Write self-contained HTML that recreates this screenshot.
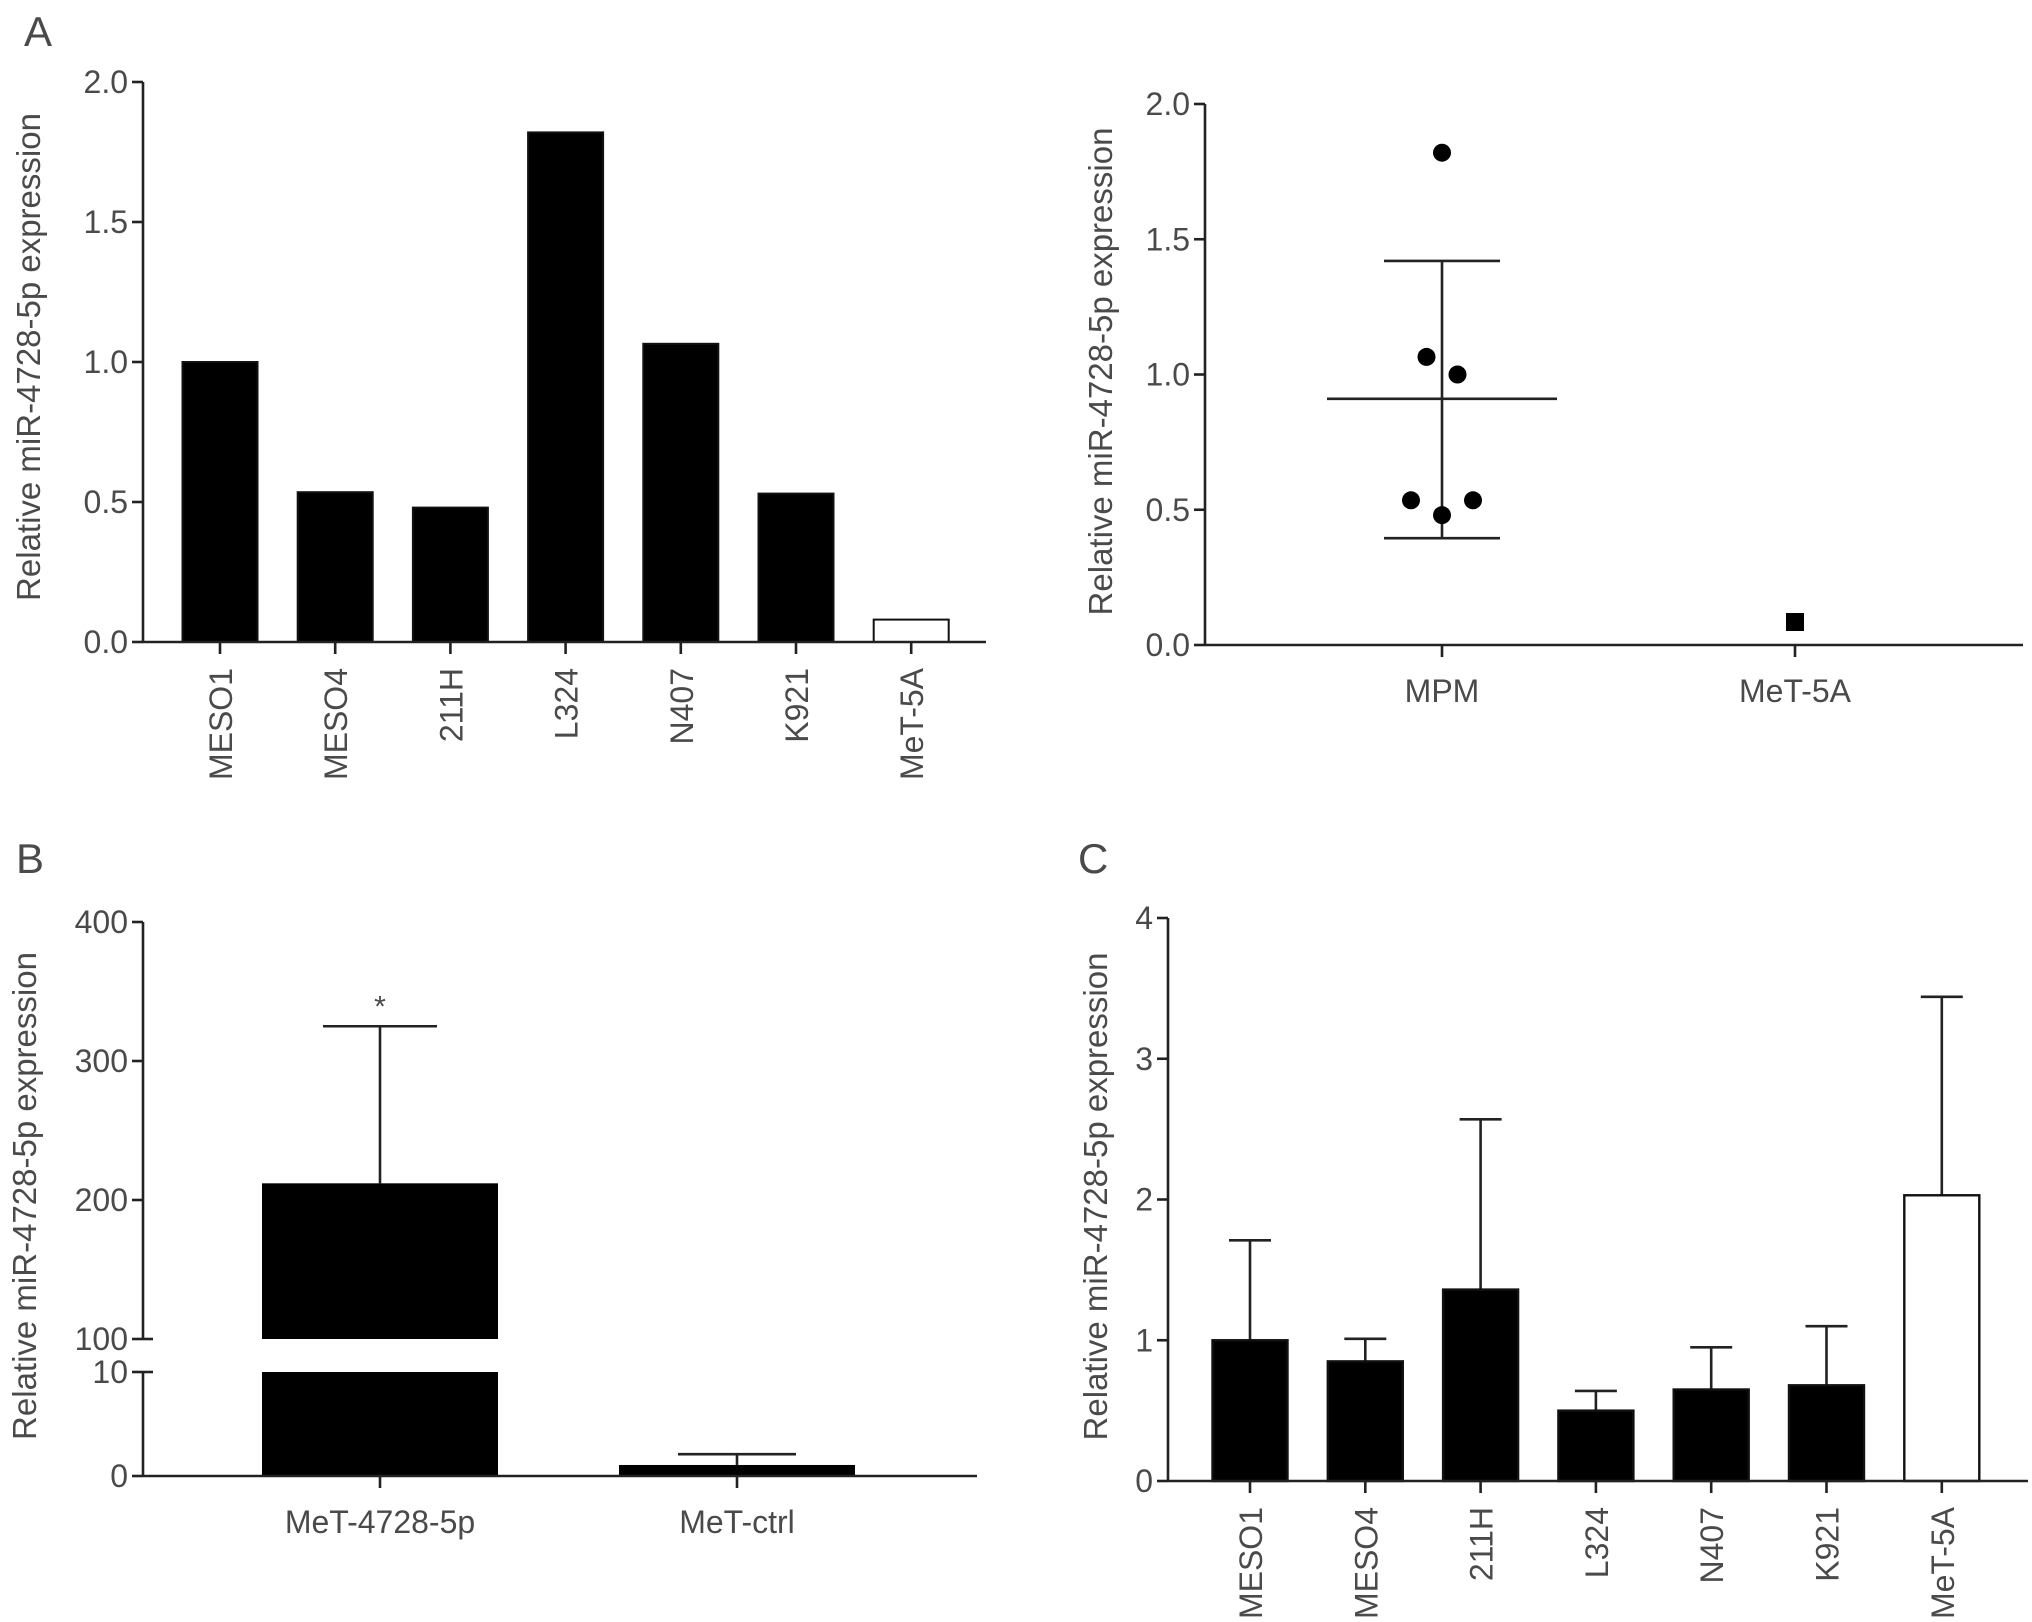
<!DOCTYPE html>
<html><head><meta charset="utf-8"><style>
html,body{margin:0;padding:0;background:#fff}
svg{display:block}
text{font-family:"Liberation Sans",sans-serif;fill:#4a4a4a}
</style></head><body>
<svg id="fig" width="2032" height="1622" viewBox="0 0 2032 1622" xmlns="http://www.w3.org/2000/svg">
<text x="24" y="46" font-size="42">A</text>
<text x="16" y="873" font-size="42">B</text>
<text x="1078" y="873" font-size="42">C</text>
</svg>
<script>
// Panel A left
const aCats = ["MESO1","MESO4","211H","L324","N407","K921","MeT-5A"];
const aVals = [1.0,0.535,0.48,1.82,1.065,0.53,0.08];
const aTicks = [0,0.5,1.0,1.5,2.0];
// Panel A right
const sCats = ["MPM","MeT-5A"];
const sMpm = [1.82,1.065,1.0,0.535,0.48,0.535];
const sMpmJitter = [0,-1,1,-2,0,2];
const sMean = 0.91, sUpper = 1.42, sLower = 0.395;
const sMet = [0.085];
// Panel B
const bCats = ["MeT-4728-5p","MeT-ctrl"];
const bVals = [212,1.06];
const bErr = [325,2.1];
const bTicksLow = [0,10];
const bTicksHigh = [100,200,300,400];
// Panel C
const cCats = ["MESO1","MESO4","211H","L324","N407","K921","MeT-5A"];
const cVals = [1.0,0.85,1.36,0.5,0.65,0.68,2.03];
const cErr = [1.71,1.01,2.57,0.64,0.95,1.1,3.44];
const cTicks = [0,1,2,3,4];

const svg=document.getElementById('fig');
const NS='http://www.w3.org/2000/svg';
function el(tag,attrs,parent){const e=document.createElementNS(NS,tag);for(const k in attrs)e.setAttribute(k,attrs[k]);(parent||svg).appendChild(e);return e;}
function line(x1,y1,x2,y2,p){return el('line',{x1,y1,x2,y2,stroke:'#222','stroke-width':2.6},p);}
function txt(s,x,y,size,anchor,p,rot){const t=el('text',{x,y,'font-size':size,'text-anchor':anchor},p);if(rot)t.setAttribute('transform',`rotate(-90 ${x} ${y})`);t.textContent=s;return t;}
function ytitle(p,x,cy){const t=txt('Relative miR-4728-5p expression',x,cy,33,'middle',p,true);}
function yticks(p,ticks,ys,x,fmt){ticks.forEach(v=>{const y=ys(v);line(x-11,y,x,y,p);const t=txt(fmt(v),x-15,y+11,32,'end',p);});}

// ---- Panel A left
(function(){
const g=el('g',{});
const x0=143,x1=986,y0=642,y1=82,max=2;
const ys=v=>y0-(v/max)*(y0-y1);
const step=115.2, first=220, bw=75;
aVals.forEach((v,i)=>{const cx=first+i*step;const r=el('rect',{x:cx-bw/2,y:ys(v),width:bw,height:y0-ys(v),fill:i===aVals.length-1?'#fff':'#000',stroke:'#111','stroke-width':2},g);

line(cx,y0,cx,y0+12,g);const t=txt(aCats[i],cx+12,y0+26,32,'end',g,true);});
line(x0,y0,x1,y0,g);line(x0,y1,x0,y0,g);
yticks(g,aTicks,ys,x0,v=>v.toFixed(1));
ytitle(g,40,(y0+y1)/2-5);
})();

// ---- Panel A right
(function(){
const g=el('g',{});
const x0=1205,x1=2023,y0=645,y1=104,max=2;
const ys=v=>y0-(v/max)*(y0-y1);
const cx=[1442,1795];
sCats.forEach((c,i)=>{line(cx[i],y0,cx[i],y0+12,g);const t=txt(c,cx[i],y0+57,32,'middle',g);});
line(x0,y0,x1,y0,g);line(x0,y1,x0,y0,g);
yticks(g,aTicks,ys,x0,v=>v.toFixed(1));
ytitle(g,1112,(y0+y1)/2-3);
line(cx[0],ys(sUpper),cx[0],ys(sLower),g);
const m=line(cx[0]-115,ys(sMean),cx[0]+115,ys(sMean),g);
line(cx[0]-58,ys(sUpper),cx[0]+58,ys(sUpper),g);line(cx[0]-58,ys(sLower),cx[0]+58,ys(sLower),g);
sMpm.forEach((v,i)=>{const c=el('circle',{cx:cx[0]+sMpmJitter[i]*15.5,cy:ys(v),r:9,fill:'#000'},g);});
sMet.forEach(v=>{const r=el('rect',{x:cx[1]-9,y:ys(v)-9,width:18,height:18,fill:'#000'},g);});
})();

// ---- Panel B
(function(){
const g=el('g',{});
const x0=143,x1=977,y0=1476,yl10=1372,yh100=1339,yh400=922;
const ysLow=v=>y0-(v/10)*(y0-yl10);
const ysHigh=v=>yh100-((v-100)/300)*(yh100-yh400);
const ys=v=>v<=10?ysLow(v):(v>=100?ysHigh(v):yl10);
const cx=[380,737],bw=236;
bVals.forEach((v,i)=>{
 const r1=el('rect',{x:cx[i]-bw/2,y:ysLow(Math.min(v,10)),width:bw,height:y0-ysLow(Math.min(v,10)),fill:'#000'},g);
 
 if(v>100){const r2=el('rect',{x:cx[i]-bw/2,y:ysHigh(v),width:bw,height:yh100-ysHigh(v),fill:'#000'},g);}
 const hw=i===0?57:59;
 line(cx[i],ys(v),cx[i],ys(bErr[i]),g);line(cx[i]-hw,ys(bErr[i]),cx[i]+hw,ys(bErr[i]),g);
 line(cx[i],y0,cx[i],y0+12,g);
 const t=txt(bCats[i],cx[i],y0+57,32,'middle',g);
});
const s=txt('*',cx[0],ys(bErr[0])-10,30,'middle',g);
line(x0,y0,x1,y0,g);line(x0,yh400,x0,yh100,g);line(x0,yl10,x0,y0,g);
line(x0+10,yh100,x0,yh100,g);line(x0+10,yl10,x0,yl10,g);
yticks(g,bTicksHigh,ysHigh,x0,v=>String(v));
yticks(g,bTicksLow,ysLow,x0,v=>String(v));
ytitle(g,36,(y0+yh400)/2-3);
})();

// ---- Panel C
(function(){
const g=el('g',{});
const x0=1168,x1=2028,y0=1481,y1=918,max=4;
const ys=v=>y0-(v/max)*(y0-y1);
const step=115.3, first=1250, bw=75;
cVals.forEach((v,i)=>{const cx=first+i*step;
 line(cx,ys(v),cx,ys(cErr[i]),g);line(cx-21,ys(cErr[i]),cx+21,ys(cErr[i]),g);
 const r=el('rect',{x:cx-bw/2,y:ys(v),width:bw,height:y0-ys(v),fill:i===cVals.length-1?'#fff':'#000',stroke:'#111','stroke-width':2.4},g);
 
 line(cx,y0,cx,y0+12,g);const t=txt(cCats[i],cx+12,y0+26,32,'end',g,true);});
line(x0,y0,x1,y0,g);line(x0,y1,x0,y0,g);
yticks(g,cTicks,ys,x0,v=>String(v));
ytitle(g,1107,(y0+y1)/2-3);
})();
</script>
</body></html>
